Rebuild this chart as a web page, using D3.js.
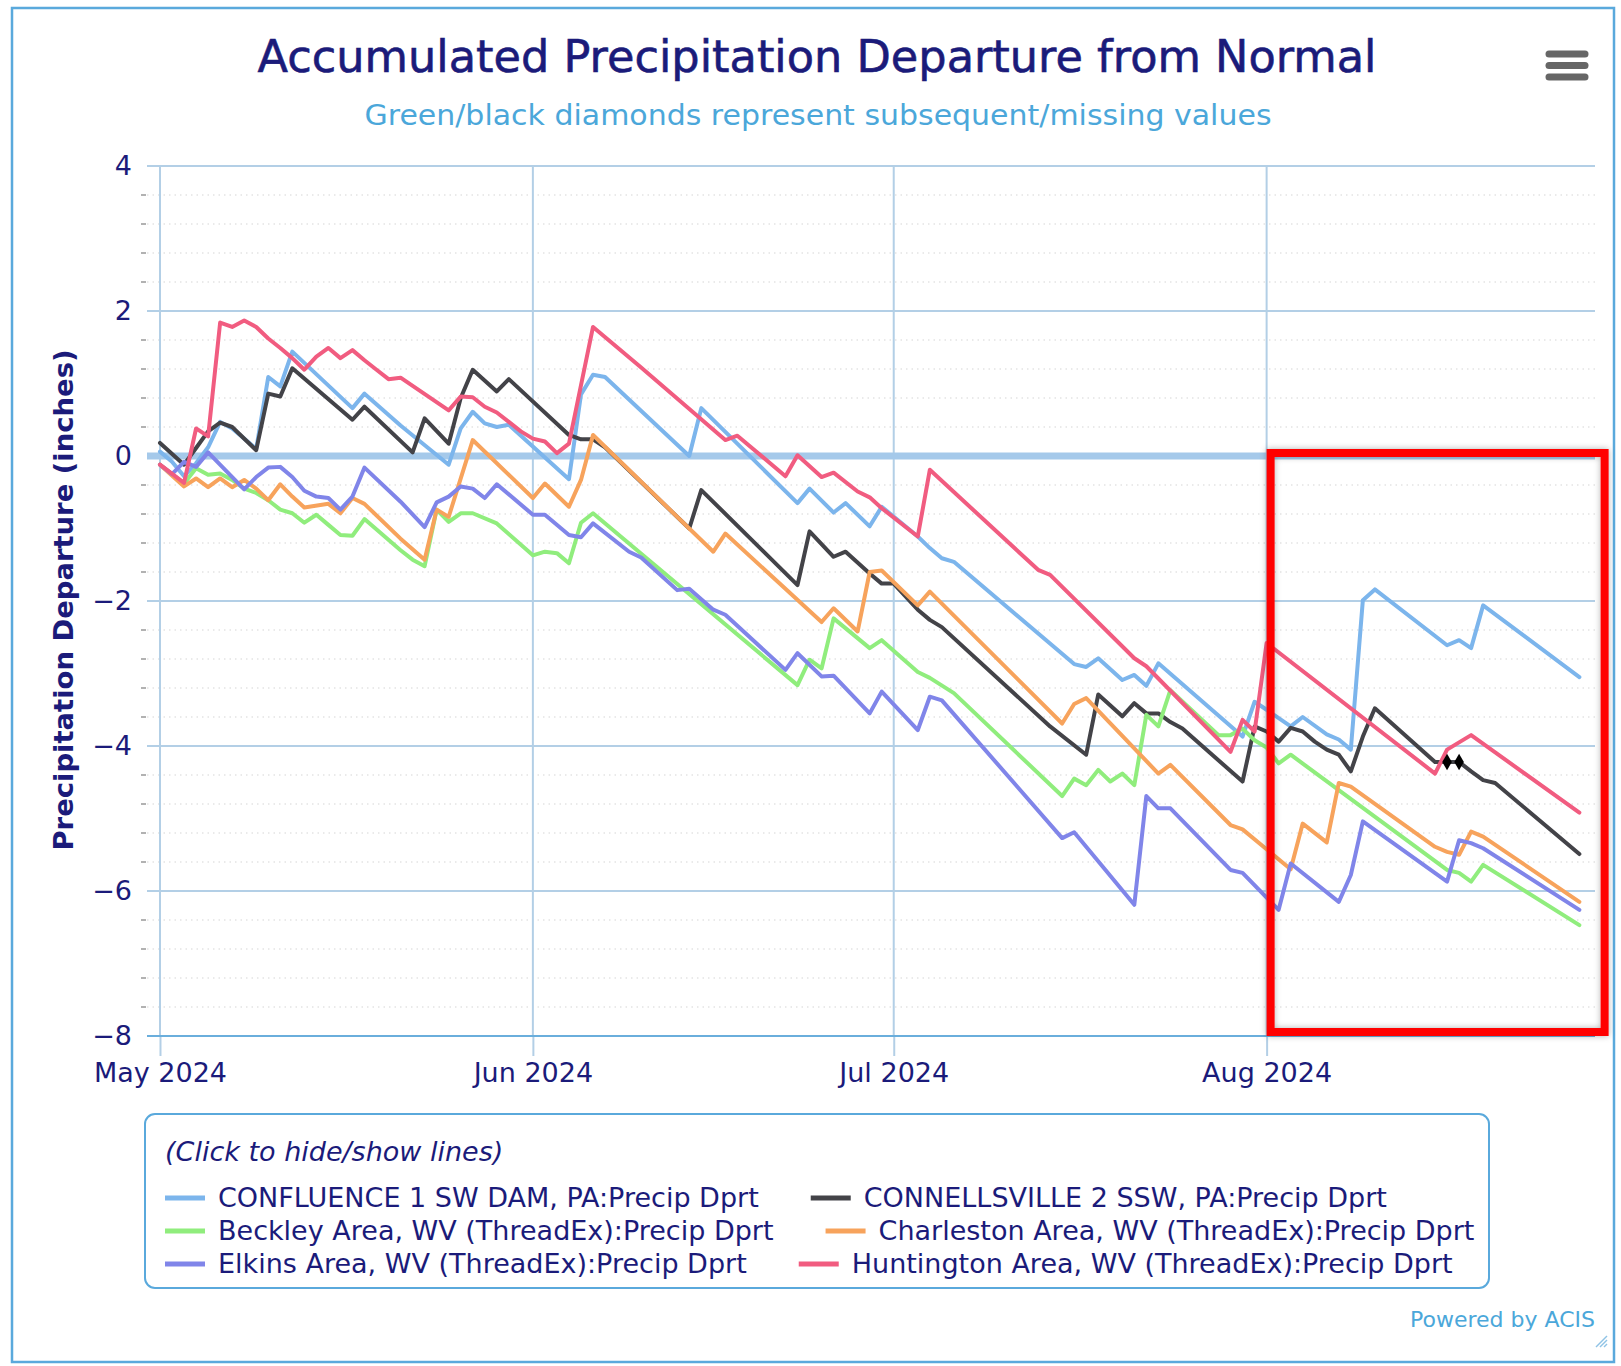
<!DOCTYPE html>
<html>
<head>
<meta charset="utf-8">
<script src="https://cdn.jsdelivr.net/npm/d3@7"></script>
<style>
html, body { margin: 0; padding: 0; background: #fff; }
svg { display: block; font-family: "DejaVu Sans", sans-serif; }
</style>
</head>
<body>
<svg id="chart" width="1621" height="1366"></svg>
<script>
// ---- data (day = days after May 1 2024, value = inches) ----
var seasonStart = Date.UTC(2024, 4, 1);
var monthTicks = ["2024-05-01", "2024-06-01", "2024-07-01", "2024-08-01"];
var yTicks = [4, 2, 0, -2, -4, -6, -8];

var seriesNames = [
  "CONFLUENCE 1 SW DAM, PA:Precip Dprt",
  "CONNELLSVILLE 2 SSW, PA:Precip Dprt",
  "Beckley Area, WV (ThreadEx):Precip Dprt",
  "Charleston Area, WV (ThreadEx):Precip Dprt",
  "Elkins Area, WV (ThreadEx):Precip Dprt",
  "Huntington Area, WV (ThreadEx):Precip Dprt"
];

var confluence = [[0,0.06],[1,-0.08],[2,-0.28],[3,-0.1],[4,0.12],[5,0.47],[6,0.38],[8,0.1],[9,1.09],[10,0.96],[11,1.44],
  [16,0.66],[17,0.86],[20,0.42],[24,-0.12],[25,0.38],[26,0.61],[27,0.45],[28,0.40],[29,0.43],[34,-0.32],[35,0.85],
  [36,1.12],[37,1.09],[44,0.0],[45,0.66],[53,-0.65],[54,-0.45],[56,-0.78],[57,-0.65],[59,-0.97],[60,-0.70],[63,-1.11],
  [64,-1.27],[65,-1.41],[66,-1.46],[76,-2.87],[77,-2.91],[78,-2.79],[80,-3.09],[81,-3.02],[82,-3.17],[83,-2.86],
  [90,-3.87],[91,-3.39],[92,-3.5],[94,-3.73],[95,-3.60],[97,-3.84],[98,-3.91],[99,-4.05],[100,-1.99],[101,-1.84],
  [107,-2.61],[108,-2.54],[109,-2.65],[110,-2.06],[118,-3.05]];

var connellsville = [[0,0.18],[2,-0.12],[3,0.11],[4,0.34],[5,0.46],[6,0.40],[8,0.08],[9,0.86],[10,0.82],[11,1.21],
  [16,0.50],[17,0.68],[21,0.05],[22,0.52],[24,0.17],[25,0.80],[26,1.19],[28,0.89],[29,1.06],[34,0.29],[35,0.23],
  [36,0.23],[37,0.12],[44,-1.0],[45,-0.47],[53,-1.78],[54,-1.04],[56,-1.39],[57,-1.32],[59,-1.62],[60,-1.76],
  [61,-1.76],[63,-2.12],[64,-2.26],[65,-2.36],[74,-3.73],[77,-4.12],[78,-3.29],[80,-3.59],[81,-3.41],[82,-3.55],
  [83,-3.55],[84,-3.67],[85,-3.76],[90,-4.49],[91,-3.73],[92,-3.80],[93,-3.94],[94,-3.75],[95,-3.80],[96,-3.94],
  [97,-4.05],[98,-4.12],[99,-4.35],[100,-3.87],[101,-3.48],[106,-4.22],[107,-4.22],[108,-4.22],[109,-4.35],
  [110,-4.47],[111,-4.51],[118,-5.49]];
var connellsvilleMissing = [107, 108];

var beckley = [[0,-0.12],[2,-0.38],[3,-0.17],[4,-0.26],[5,-0.24],[6,-0.33],[7,-0.45],[8,-0.51],[9,-0.61],[10,-0.74],
  [11,-0.79],[12,-0.92],[13,-0.81],[14,-0.95],[15,-1.09],[16,-1.10],[17,-0.87],[20,-1.30],[21,-1.43],[22,-1.52],
  [23,-0.74],[24,-0.91],[25,-0.79],[26,-0.79],[28,-0.93],[31,-1.37],[32,-1.32],[33,-1.34],[34,-1.48],[35,-0.92],
  [36,-0.79],[53,-3.16],[54,-2.81],[55,-2.93],[56,-2.24],[59,-2.65],[60,-2.54],[63,-2.98],[64,-3.06],[66,-3.27],
  [75,-4.69],[76,-4.45],[77,-4.54],[78,-4.33],[79,-4.49],[80,-4.38],[81,-4.54],[82,-3.57],[83,-3.73],[84,-3.23],
  [88,-3.85],[89,-3.85],[90,-3.76],[91,-3.92],[92,-4.02],[93,-4.24],[94,-4.12],[107,-5.71],[108,-5.75],[109,-5.87],
  [110,-5.64],[118,-6.47]];

var charleston = [[0,-0.12],[2,-0.42],[3,-0.31],[4,-0.43],[5,-0.31],[6,-0.43],[7,-0.33],[8,-0.45],[9,-0.61],[10,-0.39],
  [11,-0.56],[12,-0.71],[14,-0.66],[15,-0.79],[16,-0.58],[17,-0.66],[20,-1.14],[22,-1.43],[23,-0.74],[24,-0.84],
  [26,0.22],[31,-0.58],[32,-0.38],[34,-0.70],[35,-0.33],[36,0.29],[44,-1.0],[46,-1.32],[47,-1.07],[55,-2.29],
  [56,-2.10],[58,-2.42],[59,-1.60],[60,-1.58],[63,-2.06],[64,-1.87],[75,-3.69],[76,-3.42],[77,-3.34],[83,-4.38],
  [84,-4.26],[89,-5.09],[90,-5.15],[94,-5.70],[95,-5.07],[97,-5.33],[98,-4.51],[99,-4.56],[106,-5.39],[107,-5.46],
  [108,-5.50],[109,-5.18],[110,-5.25],[118,-6.15]];

var elkins = [[0,-0.12],[1,-0.25],[2,-0.08],[3,-0.15],[4,0.05],[7,-0.46],[8,-0.29],[9,-0.16],[10,-0.15],[11,-0.29],
  [12,-0.48],[13,-0.56],[14,-0.58],[15,-0.74],[16,-0.56],[17,-0.16],[20,-0.63],[22,-0.98],[23,-0.64],[24,-0.56],
  [25,-0.42],[26,-0.45],[27,-0.58],[28,-0.39],[31,-0.81],[32,-0.81],[34,-1.09],[35,-1.12],[36,-0.93],[39,-1.32],
  [40,-1.40],[43,-1.85],[44,-1.83],[46,-2.12],[47,-2.19],[52,-2.95],[53,-2.72],[55,-3.04],[56,-3.03],[59,-3.55],
  [60,-3.25],[63,-3.78],[64,-3.32],[65,-3.37],[75,-5.27],[76,-5.19],[81,-6.19],[82,-4.69],[83,-4.86],[84,-4.86],
  [89,-5.71],[90,-5.75],[93,-6.26],[94,-5.62],[98,-6.15],[99,-5.78],[100,-5.04],[107,-5.87],[108,-5.30],
  [109,-5.34],[110,-5.41],[118,-6.26]];

var huntington = [[0,-0.12],[2,-0.37],[3,0.38],[4,0.27],[5,1.84],[6,1.78],[7,1.87],[8,1.78],[9,1.62],[10,1.49],
  [11,1.35],[12,1.19],[13,1.37],[14,1.49],[15,1.35],[16,1.46],[17,1.32],[18,1.19],[19,1.06],[20,1.08],[24,0.63],
  [25,0.82],[26,0.81],[27,0.68],[28,0.60],[29,0.47],[30,0.34],[31,0.24],[32,0.20],[33,0.04],[34,0.17],[36,1.78],
  [40,1.22],[47,0.22],[48,0.28],[52,-0.28],[53,0.01],[55,-0.29],[56,-0.23],[58,-0.49],[59,-0.57],[60,-0.72],
  [63,-1.11],[64,-0.19],[73,-1.57],[74,-1.64],[81,-2.79],[82,-2.90],[89,-4.08],[90,-3.64],[91,-3.80],[92,-2.58],
  [106,-4.38],[107,-4.05],[109,-3.85],[118,-4.92]];

var seriesData = [confluence, connellsville, beckley, charleston, elkins, huntington];
var seriesColors = ["#7cb5ec", "#434348", "#90ed7d", "#f7a35c", "#8085e9", "#f15c80"];

// ---- layout ----
var navy = "#1b1b7a";
var gridColor = "#b3cfe6";
var plotLeft = 147, plotRight = 1595, plotTop = 166, plotBottom = 1036;

var svg = d3.select("#chart");

function toDate(day) { return new Date(seasonStart + day * 864e5); }

var x = d3.scaleUtc()
  .domain([toDate(-1.08), toDate(119.3)])
  .range([plotLeft, plotRight]);
var y = d3.scaleLinear()
  .domain([-8, 4])
  .range([plotBottom, plotTop]);

// outer frame
svg.append("rect")
  .attr("x", 12).attr("y", 8)
  .attr("width", 1602).attr("height", 1354)
  .attr("fill", "none")
  .attr("stroke", "#5aa9dc")
  .attr("stroke-width", 2.5);

// title + subtitle
svg.append("text")
  .attr("x", 817).attr("y", 72)
  .attr("text-anchor", "middle")
  .attr("font-size", "44px")
  .attr("fill", navy)
  .attr("stroke", navy).attr("stroke-width", 0.6)
  .attr("textLength", 1119).attr("lengthAdjust", "spacingAndGlyphs")
  .text("Accumulated Precipitation Departure from Normal");

svg.append("text")
  .attr("x", 818).attr("y", 125)
  .attr("text-anchor", "middle")
  .attr("font-size", "29px")
  .attr("fill", "#4ba7da")
  .attr("textLength", 907).attr("lengthAdjust", "spacingAndGlyphs")
  .text("Green/black diamonds represent subsequent/missing values");

// hamburger menu
[0, 1, 2].forEach(function(i){
  svg.append("line")
    .attr("x1", 1549).attr("x2", 1585)
    .attr("y1", 54 + i * 11.5).attr("y2", 54 + i * 11.5)
    .attr("stroke", "#666")
    .attr("stroke-width", 7)
    .attr("stroke-linecap", "round");
});

// minor grid (dotted) + minor ticks
var minor = d3.range(-8, 4.001, 0.4).filter(function(v){ return Math.abs(v / 2 - Math.round(v / 2)) > 0.01; });
svg.append("g").selectAll("line").data(minor).enter().append("line")
  .attr("x1", plotLeft).attr("x2", plotRight)
  .attr("y1", function(d){ return y(d); }).attr("y2", function(d){ return y(d); })
  .attr("stroke", "#e3e3e3")
  .attr("stroke-width", 1.5)
  .attr("stroke-dasharray", "1.5,4");
svg.append("g").selectAll("line").data(minor).enter().append("line")
  .attr("x1", plotLeft - 6).attr("x2", plotLeft - 1)
  .attr("y1", function(d){ return y(d); }).attr("y2", function(d){ return y(d); })
  .attr("stroke", "#999")
  .attr("stroke-width", 1.5);

// major horizontal grid
svg.append("g").selectAll("line").data(yTicks.filter(function(v){ return v !== -8; })).enter().append("line")
  .attr("x1", plotLeft).attr("x2", plotRight)
  .attr("y1", function(d){ return y(d); }).attr("y2", function(d){ return y(d); })
  .attr("stroke", gridColor)
  .attr("stroke-width", 2);

// x axis with month gridlines
var monthDates = monthTicks.map(function(s){ return new Date(s + "T00:00:00Z"); });
svg.append("g").selectAll("line").data(monthDates).enter().append("line")
  .attr("x1", function(d){ return x(d); }).attr("x2", function(d){ return x(d); })
  .attr("y1", plotTop).attr("y2", plotBottom)
  .attr("stroke", gridColor)
  .attr("stroke-width", 2);

var xAxis = svg.append("g")
  .attr("transform", "translate(0," + plotBottom + ")")
  .call(d3.axisBottom(x).tickValues(monthDates).tickFormat(d3.utcFormat("%b %Y")).tickSize(20).tickPadding(7));
xAxis.select(".domain").remove();
xAxis.selectAll(".tick line").attr("stroke", gridColor).attr("stroke-width", 2);
xAxis.selectAll("text").attr("font-size", "27px").attr("fill", navy).attr("font-family", "DejaVu Sans");

svg.append("line")
  .attr("x1", plotLeft).attr("x2", plotRight)
  .attr("y1", plotBottom).attr("y2", plotBottom)
  .attr("stroke", "#6aaedc")
  .attr("stroke-width", 2);

var yAxis = svg.append("g")
  .attr("transform", "translate(" + plotLeft + ",0)")
  .call(d3.axisLeft(y).tickValues(yTicks).tickSize(0).tickPadding(15));
yAxis.select(".domain").remove();
yAxis.selectAll("text").attr("font-size", "27px").attr("fill", navy).attr("font-family", "DejaVu Sans");

// y axis title
svg.append("text")
  .attr("transform", "translate(64,600) rotate(-90)")
  .attr("dy", "0.35em")
  .attr("text-anchor", "middle")
  .attr("font-size", "26px")
  .attr("font-weight", "bold")
  .attr("fill", navy)
  .attr("textLength", 501).attr("lengthAdjust", "spacingAndGlyphs")
  .text("Precipitation Departure (inches)");

// zero plot line
svg.append("line")
  .attr("x1", plotLeft).attr("x2", plotRight)
  .attr("y1", y(0)).attr("y2", y(0))
  .attr("stroke", "#a5c9ea")
  .attr("stroke-width", 7);

// series
var line = d3.line()
  .x(function(d){ return x(toDate(d[0])); })
  .y(function(d){ return y(d[1]); });

seriesData.forEach(function(data, i){
  svg.append("path")
    .datum(data)
    .attr("d", line)
    .attr("fill", "none")
    .attr("stroke", seriesColors[i])
    .attr("stroke-width", 4)
    .attr("stroke-linejoin", "round")
    .attr("stroke-linecap", "round");
});

// missing-value diamonds
var diamond = d3.symbol().type(d3.symbolDiamond).size(80);
svg.append("g").selectAll("path").data(connellsville.filter(function(d){ return connellsvilleMissing.indexOf(d[0]) >= 0; }))
  .enter().append("path")
  .attr("d", diamond)
  .attr("transform", function(d){ return "translate(" + x(toDate(d[0])) + "," + y(d[1]) + ")"; })
  .attr("fill", "#000");

// red highlight box
var defs = svg.append("defs");
var f = defs.append("filter").attr("id", "shadow").attr("x", "-10%").attr("y", "-10%").attr("width", "120%").attr("height", "120%");
f.append("feDropShadow").attr("dx", 0).attr("dy", 0).attr("stdDeviation", 3).attr("flood-color", "#000").attr("flood-opacity", 0.3);
svg.append("rect")
  .attr("x", x(toDate(92)) + 4).attr("y", y(0) - 3)
  .attr("width", 334).attr("height", 579)
  .attr("fill", "none")
  .attr("stroke", "#ff0000")
  .attr("stroke-width", 8)
  .attr("filter", "url(#shadow)");

// legend
var legend = svg.append("g");
legend.append("rect")
  .attr("x", 145).attr("y", 1114)
  .attr("width", 1344).attr("height", 174)
  .attr("rx", 10)
  .attr("fill", "#fff")
  .attr("stroke", "#5aa9dc")
  .attr("stroke-width", 2);
legend.append("text")
  .attr("x", 165).attr("y", 1161)
  .attr("font-size", "27px")
  .attr("font-style", "italic")
  .attr("fill", navy)
  .text("(Click to hide/show lines)");

var rowY = [1198, 1231, 1264];
var col2Start = [];
seriesNames.forEach(function(name, i){
  var row = Math.floor(i / 2), col = i % 2;
  var sx = col === 0 ? 165 : col2Start[row];
  legend.append("line")
    .attr("x1", sx).attr("x2", sx + 40)
    .attr("y1", rowY[row]).attr("y2", rowY[row])
    .attr("stroke", seriesColors[i])
    .attr("stroke-width", 5);
  var t = legend.append("text")
    .attr("x", sx + 53).attr("y", rowY[row])
    .attr("dy", "0.35em")
    .attr("font-size", "27px")
    .attr("fill", navy)
    .text(name);
  if (col === 0) col2Start[row] = sx + 53 + t.node().getComputedTextLength() + 52;
});

// credits
svg.append("text")
  .attr("x", 1595).attr("y", 1327)
  .attr("text-anchor", "end")
  .attr("font-size", "22px")
  .attr("fill", "#4ba7da")
  .text("Powered by ACIS");

// resize grip
[0, 1, 2].forEach(function(i){
  svg.append("line")
    .attr("x1", 1596 + i * 4).attr("y1", 1347)
    .attr("x2", 1607).attr("y2", 1336 + i * 4)
    .attr("stroke", "#8fc3e6")
    .attr("stroke-width", 1.5);
});
</script>
</body>
</html>
